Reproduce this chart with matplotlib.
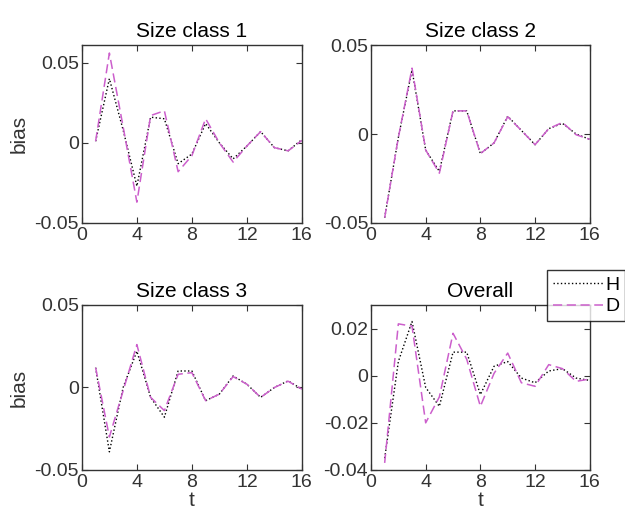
"""Bias over time per size class, H vs D estimators (2x2 panel figure)."""

import matplotlib

matplotlib.use("Agg")
import matplotlib.pyplot as plt
import numpy as np

plt.rcParams["font.family"] = ["Liberation Sans", "DejaVu Sans"]

t = np.arange(1, 17)

titles = ["Size class 1", "Size class 2", "Size class 3", "Overall"]

# Size class 1
h_sc1 = [0.001, 0.040, 0.008, -0.027, 0.016, 0.015, -0.013, -0.007,
         0.012, 0.000, -0.010, -0.002, 0.007, -0.003, -0.005, 0.002]
d_sc1 = [0.001, 0.056, 0.010, -0.037, 0.017, 0.020, -0.018, -0.008,
         0.015, 0.000, -0.012, -0.002, 0.007, -0.003, -0.005, 0.0015]

# Size class 2
h_sc2 = [-0.047, -0.002, 0.036, -0.009, -0.021, 0.013, 0.013, -0.011,
         -0.005, 0.010, 0.002, -0.006, 0.003, 0.006, 0.000, -0.003]
d_sc2 = [-0.047, -0.002, 0.037, -0.009, -0.022, 0.013, 0.013, -0.011,
         -0.005, 0.0097, 0.002, -0.006, 0.003, 0.0065, -0.0004, -0.003]

# Size class 3
h_sc3 = [0.012, -0.039, 0.000, 0.022, -0.006, -0.018, 0.010, 0.010,
         -0.008, -0.004, 0.007, 0.002, -0.006, 0.000, 0.004, -0.001]
d_sc3 = [0.012, -0.030, -0.002, 0.026, -0.006, -0.014, 0.008, 0.009,
         -0.008, -0.004, 0.0066, 0.002, -0.006, 0.000, 0.0038, -0.001]

# Overall
h_all = [-0.035, 0.006, 0.023, -0.005, -0.013, 0.010, 0.010, -0.008,
         0.004, 0.006, -0.001, -0.003, 0.002, 0.003, -0.001, -0.002]
d_all = [-0.037, 0.022, 0.021, -0.020, -0.009, 0.018, 0.007, -0.013,
         0.001, 0.0096, -0.003, -0.0045, 0.0047, 0.003, -0.0024, -0.0014]

h_series = [h_sc1, h_sc2, h_sc3, h_all]
d_series = [d_sc1, d_sc2, d_sc3, d_all]

ylims = [(-0.05, 0.061), (-0.05, 0.05), (-0.05, 0.05), (-0.04, 0.03)]
yticks = [[-0.05, 0, 0.05], [-0.05, 0, 0.05], [-0.05, 0, 0.05],
          [-0.04, -0.02, 0, 0.02]]
ytick_labels = [["-0.05", "0", "0.05"]] * 3 + [["-0.04", "-0.02", "0", "0.02"]]

# axes rectangles in figure fractions (left, bottom, width, height)
positions = [
    (0.131, 0.5695, 0.352, 0.3436),
    (0.5936, 0.5695, 0.350, 0.3436),
    (0.131, 0.0927, 0.352, 0.3185),
    (0.5936, 0.0927, 0.350, 0.3185),
]

magenta = "#cc5fcc"

fig = plt.figure(figsize=(6.25, 5.18), dpi=100)

for i in range(4):
    ax = fig.add_axes(positions[i])
    ax.plot(t, h_series[i], color="black", linestyle=":", linewidth=1.0,
            label="H")
    ax.plot(t, d_series[i], color=magenta, linestyle=(0, (6, 3)),
            linewidth=1.1, label="D")
    ax.set_xlim(0, 16)
    ax.set_ylim(*ylims[i])
    ax.set_xticks([0, 4, 8, 12, 16])
    ax.set_yticks(yticks[i])
    ax.set_yticklabels(ytick_labels[i])
    ax.tick_params(direction="in", top=True, right=True, length=4,
                   labelsize=14, colors="#333333", pad=2)
    ax.tick_params(axis="x", pad=3)
    for side in ax.spines.values():
        side.set_linewidth(1.0)
        side.set_color("#333333")
    ax.set_title(titles[i], fontsize=15, pad=6)
    if i in (0, 2):
        ax.set_ylabel("bias", fontsize=15, color="#333333", labelpad=4)
    if i in (2, 3):
        ax.set_xlabel("t", fontsize=15, color="#333333", labelpad=0)
    if i == 3:
        handles, labels = ax.get_legend_handles_labels()

leg = fig.legend(handles, labels, loc="upper left",
                 bbox_to_anchor=(0.875, 0.478), fontsize=14,
                 handlelength=2.6, handletextpad=0.1, borderpad=0.3,
                 labelspacing=0.2, borderaxespad=0, fancybox=False)
leg.get_frame().set_edgecolor("black")
leg.get_frame().set_linewidth(1.0)

fig.savefig("out.png", dpi=100)
